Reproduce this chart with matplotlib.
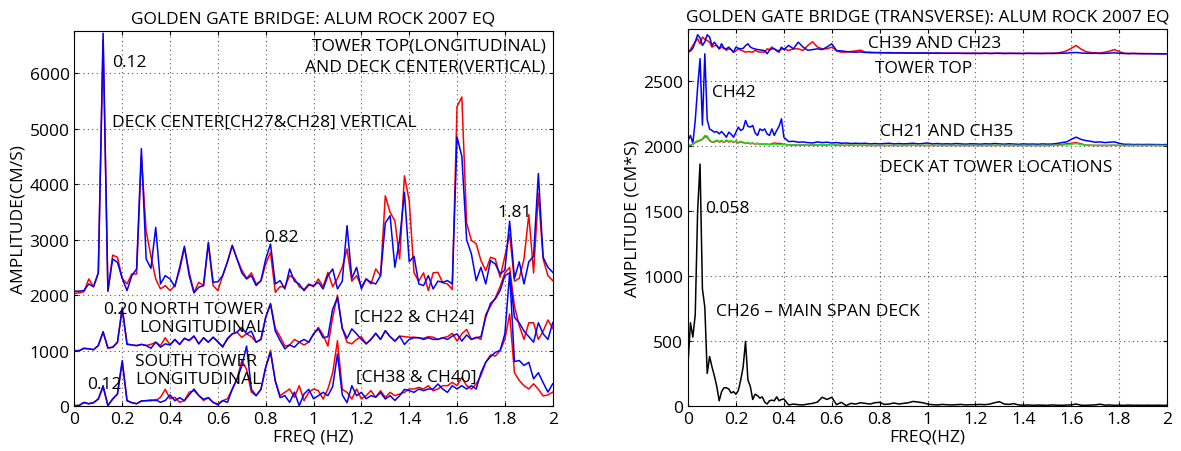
import numpy as np
import matplotlib
matplotlib.use("Agg")
import matplotlib.pyplot as plt

plt.rcParams['font.family'] = ['Open Sans', 'DejaVu Sans']

# ---------- LEFT PANEL: longitudinal / vertical spectra (plotted amplitudes) ----------
freq_left = np.round(np.arange(0, 2.0001, 0.02), 2)

deck_blue = [2070, 2070, 2080, 2200, 2150, 2400, 6720, 2080, 2650, 2590,
             2300, 2080, 2350, 2470, 4640, 2650, 2480, 3220, 2200, 2350,
             2290, 2150, 2500, 2880, 2350, 2040, 2140, 2170, 2950, 2230,
             2240, 2350, 2600, 2890, 2650, 2400, 2290, 2350, 2170, 2260,
             2650, 2920, 2200, 2260, 2110, 2470, 2250, 2200, 2080, 2180,
             2170, 2230, 2110, 2350, 2470, 2110, 2250, 3250, 2300, 2500,
             2110, 2290, 2230, 2200, 2350, 3300, 3430, 2500, 3000, 3850,
             2600, 2700, 2200, 2170, 2350, 2110, 2250, 2230, 2260, 2200,
             4850, 4500, 3000, 2740, 2260, 2500, 2200, 2620, 2560, 2380,
             2450, 3330, 2300, 2600, 2200, 2600, 2700, 4190, 2680, 2500,
             2410]
deck_red = [2030, 2040, 2060, 2290, 2150, 2400, 6600, 2060, 2720, 2680,
            2300, 2200, 2380, 2380, 4500, 3150, 2700, 2290, 2110, 2170,
            2080, 2170, 2450, 2850, 2410, 2050, 2230, 2170, 2920, 2170,
            2080, 2350, 2600, 2900, 2650, 2450, 2300, 2400, 2200, 2250,
            2560, 2770, 2050, 2150, 2150, 2350, 2300, 2150, 2100, 2200,
            2150, 2290, 2150, 2410, 2150, 2300, 2500, 2830, 2250, 2350,
            2150, 2290, 2200, 2470, 2350, 3790, 3490, 3340, 2650, 4150,
            3700, 2400, 2250, 2400, 2080, 2400, 2410, 2220, 2200, 2100,
            5400, 5570, 3300, 2985, 2925, 2620, 2440, 2680, 2650, 2320,
            2700, 3100, 2250, 2300, 2650, 3450, 2400, 3830, 2650, 2350,
            2260]
north_blue = [997, 997, 1040, 1030, 1015, 1090, 1340, 1050, 1057, 1147,
              1750, 1110, 1100, 1087, 1110, 1090, 1040, 1150, 1060, 1120,
              1100, 1200, 1110, 1220, 1180, 1260, 1120, 1230, 1150, 1240,
              1160, 1060, 1220, 1300, 1330, 1417, 1300, 1350, 1150, 1200,
              1600, 1838, 1350, 1180, 1030, 1100, 1060, 1150, 1200, 1150,
              1300, 1390, 1230, 1250, 1748, 1950, 1400, 1220, 1390, 1300,
              1200, 1120, 1200, 1310, 1200, 1357, 1250, 1170, 1260, 1110,
              1200, 1230, 1230, 1200, 1230, 1200, 1200, 1230, 1200, 1260,
              1300, 1170, 1280, 1200, 1230, 1250, 1600, 1850, 1930, 2080,
              2350, 2400, 1600, 1500, 1350, 1250, 1150, 1500, 1300, 1200,
              1500]
north_red = [997, 997, 1040, 1030, 1015, 1090, 1330, 1040, 1060, 1150,
             1780, 1120, 1100, 1090, 1110, 1090, 1110, 1150, 1090, 1230,
             1100, 1200, 1110, 1220, 1180, 1260, 1120, 1230, 1150, 1240,
             1150, 1080, 1200, 1300, 1330, 1237, 1300, 1250, 1150, 1200,
             1600, 1850, 1400, 1250, 1080, 1100, 1200, 1150, 1100, 1150,
             1300, 1417, 1280, 1080, 1600, 2000, 1400, 1150, 1120, 1200,
             1250, 1120, 1200, 1310, 1200, 1357, 1250, 1170, 1260, 1250,
             1240, 1240, 1230, 1220, 1250, 1240, 1200, 1230, 1250, 1310,
             1170, 1300, 1380, 1200, 1240, 1200, 1650, 1800, 1950, 2150,
             2400, 2500, 1800, 1450, 1200, 1500, 1500, 1200, 1350, 1550,
             1400]
south_blue = [5, 10, 66, 40, 60, 126, 366, 6, 126, 216,
              817, 96, 60, 40, 90, 96, 96, 110, 66, 100,
              200, 96, 150, 96, 200, 306, 190, 120, 150, 66,
              20, 96, 66, 300, 486, 727, 1080, 300, 186, 300,
              700, 967, 450, 150, 186, 66, 250, 6, 216, 300,
              130, 186, 246, 186, 350, 937, 200, 60, 366, 186,
              246, 130, 186, 160, 240, 126, 186, 100, 186, 300,
              276, 246, 306, 276, 306, 306, 396, 306, 246, 366,
              306, 366, 306, 366, 306, 600, 790, 890, 967, 1000,
              1300, 2400, 800, 820, 730, 787, 490, 600, 420, 250,
              400]
south_red = [5, 10, 60, 40, 60, 126, 340, 10, 126, 216,
             790, 96, 60, 40, 90, 96, 110, 96, 156, 300,
             130, 156, 66, 96, 250, 276, 190, 100, 150, 60,
             40, 96, 130, 306, 486, 817, 660, 250, 186, 300,
             700, 1000, 450, 186, 246, 306, 156, 366, 96, 246,
             306, 276, 126, 306, 600, 1177, 300, 246, 126, 306,
             126, 186, 276, 156, 276, 156, 246, 186, 216, 246,
             306, 306, 336, 306, 366, 276, 306, 366, 366, 426,
             366, 516, 366, 306, 396, 550, 787, 920, 900, 997,
             1200, 1660, 600, 460, 366, 306, 400, 300, 180, 200,
             250]

# ---------- RIGHT PANEL: transverse spectra (plotted amplitudes) ----------
freq_right = np.round(np.concatenate([np.arange(0, 0.395, 0.01),
                                      np.arange(0.4, 2.0001, 0.02)]), 2)

ch26 = [330, 640, 530, 700, 1500, 1860, 900, 760, 250, 380,
        300, 230, 150, 40, 110, 140, 140, 130, 100, 110,
        90, 120, 200, 300, 497, 200, 150, 50, 90, 80,
        60, 70, 30, 15, 40, 45, 40, 70, 40, 50,
        54, 8, 15, 10, 8, 15, 20, 30, 67, 50,
        67, 10, 28, 3, 20, 15, 25, 20, 15, 25,
        28, 12, 15, 23, 15, 20, 25, 35, 30, 25,
        15, 10, 8, 12, 10, 8, 10, 12, 8, 10,
        10, 12, 10, 15, 25, 33, 15, 12, 18, 8,
        6, 8, 5, 7, 6, 5, 8, 6, 5, 7,
        8, 15, 6, 5, 7, 8, 14, 6, 8, 5,
        6, 5, 7, 5, 6, 5, 6, 5, 6, 5, 5]
ch42 = [2041, 2080, 2020, 2195, 2450, 2670, 2160, 2708, 2200, 2130,
        2118, 2105, 2110, 2092, 2110, 2090, 2066, 2105, 2090, 2066,
        2105, 2144, 2118, 2130, 2195, 2150, 2144, 2157, 2100, 2080,
        2130, 2118, 2130, 2092, 2080, 2130, 2080, 2118, 2150, 2208,
        2066, 2033, 2035, 2028, 2030, 2025, 2022, 2030, 2025, 2028,
        2022, 2025, 2020, 2022, 2018, 2020, 2018, 2020, 2015, 2018,
        2015, 2018, 2020, 2015, 2018, 2015, 2017, 2020, 2015, 2018,
        2022, 2015, 2018, 2014, 2016, 2014, 2018, 2015, 2013, 2016,
        2015, 2013, 2016, 2014, 2018, 2015, 2013, 2016, 2014, 2012,
        2015, 2013, 2014, 2012, 2015, 2013, 2014, 2018, 2025, 2030,
        2050, 2067, 2050, 2041, 2035, 2028, 2030, 2025, 2028, 2030,
        2020, 2012, 2012, 2010, 2011, 2010, 2011, 2010, 2010, 2009, 2010]
ch21 = [2003, 2005, 2015, 2030, 2040, 2045, 2055, 2080, 2075, 2045,
        2030, 2035, 2045, 2035, 2040, 2030, 2045, 2035, 2038, 2030,
        2040, 2025, 2035, 2028, 2020, 2025, 2018, 2022, 2015, 2020,
        2012, 2015, 2010, 2012, 2008, 2010, 2015, 2010, 2012, 2008,
        2010, 2006, 2008, 2005, 2007, 2005, 2006, 2008, 2010, 2007,
        2012, 2006, 2005, 2004, 2006, 2005, 2004, 2005, 2004, 2003,
        2004, 2003, 2004, 2003, 2004, 2003, 2004, 2005, 2004, 2003,
        2004, 2003, 2004, 2003, 2004, 2003, 2004, 2003, 2004, 2003,
        2004, 2003, 2004, 2003, 2004, 2005, 2004, 2003, 2004, 2003,
        2004, 2003, 2004, 2003, 2004, 2003, 2004, 2005, 2006, 2008,
        2012, 2018, 2010, 2005, 2004, 2003, 2004, 2003, 2004, 2005,
        2004, 2003, 2004, 2003, 2004, 2003, 2004, 2003, 2004, 2003, 2003]
ch35 = [2002, 2004, 2012, 2025, 2035, 2040, 2050, 2070, 2068, 2040,
        2028, 2030, 2040, 2030, 2035, 2028, 2040, 2030, 2035, 2028,
        2035, 2022, 2030, 2025, 2018, 2022, 2016, 2020, 2014, 2018,
        2012, 2014, 2012, 2014, 2010, 2016, 2022, 2018, 2020, 2015,
        2012, 2008, 2006, 2005, 2006, 2005, 2006, 2007, 2008, 2006,
        2010, 2005, 2004, 2004, 2005, 2004, 2004, 2004, 2003, 2003,
        2003, 2003, 2003, 2003, 2003, 2003, 2004, 2004, 2003, 2003,
        2003, 2003, 2003, 2003, 2003, 2003, 2003, 2003, 2003, 2003,
        2003, 2003, 2003, 2003, 2003, 2004, 2003, 2003, 2003, 2003,
        2003, 2003, 2003, 2003, 2003, 2003, 2004, 2006, 2010, 2015,
        2020, 2025, 2015, 2006, 2004, 2003, 2003, 2003, 2003, 2004,
        2003, 2003, 2003, 2003, 2003, 2003, 2003, 2003, 2003, 2003, 2003]
ch23 = [2720, 2730, 2750, 2800, 2854, 2830, 2772, 2800, 2854, 2836,
        2772, 2797, 2770, 2746, 2785, 2750, 2746, 2759, 2740, 2720,
        2759, 2750, 2746, 2750, 2770, 2785, 2760, 2750, 2745, 2740,
        2738, 2735, 2732, 2708, 2735, 2746, 2746, 2730, 2720, 2759,
        2740, 2772, 2746, 2797, 2760, 2735, 2740, 2746, 2740, 2760,
        2785, 2732, 2730, 2725, 2722, 2720, 2722, 2718, 2720, 2716,
        2718, 2715, 2717, 2714, 2716, 2714, 2715, 2713, 2715, 2713,
        2714, 2712, 2714, 2712, 2713, 2711, 2713, 2711, 2712, 2710,
        2712, 2711, 2712, 2710, 2711, 2713, 2710, 2712, 2710, 2711,
        2710, 2712, 2710, 2711, 2710, 2712, 2710, 2711, 2712, 2713,
        2716, 2718, 2714, 2712, 2711, 2712, 2710, 2711, 2713, 2715,
        2712, 2710, 2709, 2710, 2709, 2708, 2709, 2708, 2708, 2707, 2708]
ch39 = [2720, 2740, 2772, 2800, 2823, 2785, 2836, 2820, 2810, 2797,
        2759, 2770, 2772, 2746, 2759, 2750, 2735, 2746, 2740, 2720,
        2730, 2746, 2735, 2730, 2720, 2725, 2722, 2720, 2735, 2725,
        2720, 2722, 2720, 2746, 2740, 2760, 2746, 2735, 2733, 2746,
        2746, 2733, 2746, 2746, 2733, 2772, 2800, 2760, 2746, 2746,
        2759, 2730, 2720, 2722, 2725, 2730, 2736, 2720, 2715, 2718,
        2714, 2716, 2713, 2715, 2713, 2714, 2712, 2714, 2712, 2713,
        2712, 2713, 2711, 2712, 2711, 2713, 2711, 2712, 2710, 2712,
        2711, 2710, 2712, 2711, 2712, 2710, 2711, 2710, 2712, 2710,
        2711, 2710, 2712, 2710, 2711, 2710, 2712, 2714, 2720, 2730,
        2750, 2772, 2745, 2725, 2718, 2715, 2714, 2720, 2728, 2740,
        2725, 2712, 2710, 2711, 2709, 2710, 2708, 2709, 2708, 2708, 2708]

# ---------- FIGURE ----------
fig = plt.figure(figsize=(11.81, 4.52), dpi=100)
ax1 = fig.add_axes([0.063, 0.0996, 0.405, 0.8296])
ax2 = fig.add_axes([0.5826, 0.0996, 0.4056, 0.8345])

lw = 1.1
FS = 12.5

def style(ax):
    ax.grid(True, linestyle=(0, (1, 3)), color="#555555", linewidth=0.8)
    ax.tick_params(direction="in", top=True, right=True, labelsize=FS, length=3)
    ax.set_xlim(0, 2)
    ax.set_xticks(np.arange(0, 2.01, 0.2))
    ax.set_xticklabels(["0", "0.2", "0.4", "0.6", "0.8", "1", "1.2", "1.4", "1.6", "1.8", "2"])
    for s in ax.spines.values():
        s.set_linewidth(0.8)

# left
for r, b in [(south_red, south_blue), (north_red, north_blue), (deck_red, deck_blue)]:
    ax1.plot(freq_left, r, color="red", lw=lw)
    ax1.plot(freq_left, b, color="blue", lw=lw)
style(ax1)
ax1.set_ylim(0, 6760)
ax1.set_yticks(np.arange(0, 6001, 1000))
ax1.set_title("GOLDEN GATE BRIDGE: ALUM ROCK 2007 EQ", fontsize=FS, pad=6)
ax1.set_xlabel("FREQ (HZ)", fontsize=FS, labelpad=1)
ax1.set_ylabel("AMPLITUDE(CM/S)", fontsize=FS, labelpad=2)

ax1.text(1.97, 6500, "TOWER TOP(LONGITUDINAL)", fontsize=FS, ha="right", va="center")
ax1.text(1.97, 6120, "AND DECK CENTER(VERTICAL)", fontsize=FS, ha="right", va="center")
ax1.text(0.158, 6200, "0.12", fontsize=FS, va="center")
ax1.text(0.158, 5120, "DECK CENTER[CH27&CH28] VERTICAL", fontsize=FS, va="center")
ax1.text(0.795, 3050, "0.82", fontsize=FS, va="center")
ax1.text(1.77, 3500, "1.81", fontsize=FS, va="center")
ax1.text(0.122, 1750, "0.20", fontsize=FS, va="center")
ax1.text(0.273, 1750, "NORTH TOWER", fontsize=FS, va="center")
ax1.text(0.273, 1420, "LONGITUDINAL", fontsize=FS, va="center")
ax1.text(1.168, 1600, "[CH22 & CH24]", fontsize=FS, va="center")
ax1.text(0.253, 810, "SOUTH TOWER", fontsize=FS, va="center")
ax1.text(0.253, 490, "LONGITUDINAL", fontsize=FS, va="center")
ax1.text(0.052, 400, "0.12", fontsize=FS, va="center")
ax1.text(1.176, 520, "[CH38 & CH40]", fontsize=FS, va="center")

# right
ax2.plot(freq_right, ch26, color="black", lw=lw)
ax2.plot(freq_right, ch35, color="red", lw=lw)
ax2.plot(freq_right, ch42, color="blue", lw=lw)
ax2.plot(freq_right, ch21, color="#22dd22", lw=lw)
ax2.plot(freq_right, ch39, color="red", lw=lw)
ax2.plot(freq_right, ch23, color="blue", lw=lw)
style(ax2)
ax2.set_ylim(0, 2900)
ax2.set_yticks(np.arange(0, 2501, 500))
ax2.set_title("GOLDEN GATE BRIDGE (TRANSVERSE): ALUM ROCK 2007 EQ", fontsize=FS, pad=6)
ax2.set_xlabel("FREQ(HZ)", fontsize=FS, labelpad=1)
ax2.set_ylabel("AMPLITUDE (CM*S)", fontsize=FS, labelpad=2)

ax2.text(0.75, 2790, "CH39 AND CH23", fontsize=FS, va="center")
ax2.text(0.78, 2600, "TOWER TOP", fontsize=FS, va="center")
ax2.text(0.10, 2415, "CH42", fontsize=FS, va="center")
ax2.text(0.80, 2115, "CH21 AND CH35", fontsize=FS, va="center")
ax2.text(0.80, 1840, "DECK AT TOWER LOCATIONS", fontsize=FS, va="center")
ax2.text(0.07, 1525, "0.058", fontsize=FS, va="center")
ax2.text(0.115, 730, "CH26 \u2013 MAIN SPAN DECK", fontsize=FS, va="center")

fig.savefig("out.png", dpi=100)
